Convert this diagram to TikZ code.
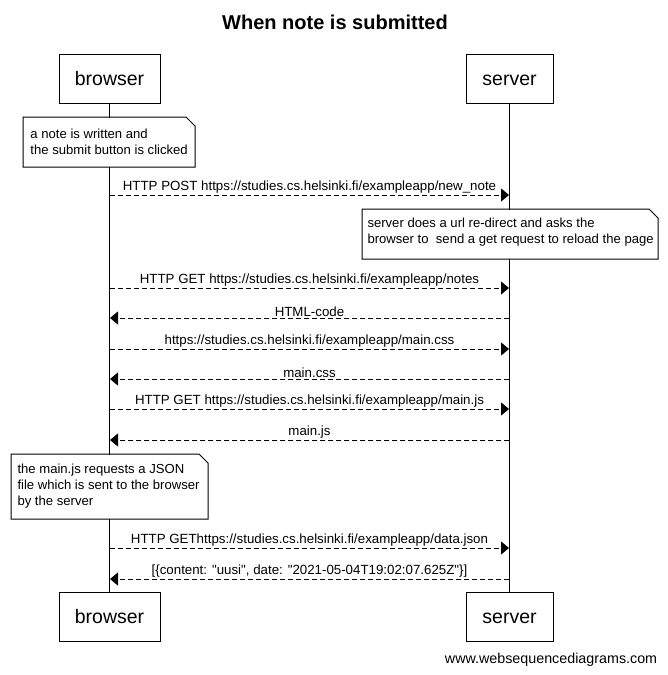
\documentclass[tikz,border=0pt]{standalone}
\usepackage{fontspec}
\setmainfont{Liberation Sans}
\usetikzlibrary{arrows.meta}

\begin{document}
\begin{tikzpicture}[x=1pt,y=-1pt,line width=1pt,
	actor/.style={draw,fill=white,minimum height=49pt,inner sep=0pt,text height=14pt,text depth=0pt,font=\fontsize{19.5}{22}\selectfont},
	notebox/.style={anchor=north west,fill=white,inner sep=0pt},
	notetext/.style={anchor=west,inner sep=0pt,align=left,font=\fontsize{13.1}{16}\selectfont},
	msg/.style={dash pattern=on 5pt off 3pt,-{Triangle[length=8pt,width=13pt]}},
	lbl/.style={above,inner sep=1pt,font=\fontsize{13.3}{15}\selectfont}]

	\useasboundingbox (0,0) rectangle (667,675);

	\node[font=\bfseries\fontsize{20}{24}\selectfont] (title) at (335,22) {When note is submitted};

	% participants
	\node[actor,minimum width=101pt] (btop) at (109.5,78.5) {browser};
	\node[actor,minimum width=87pt] (stop) at (509.5,78.5) {server};
	\node[actor,minimum width=101pt] (bbot) at (109.5,616.5) {browser};
	\node[actor,minimum width=87pt] (sbot) at (509.5,616.5) {server};

	\draw (btop) -- (bbot);
	\draw (stop) -- (sbot);

	% notes
	\node[notebox,minimum width=171pt,minimum height=49pt] (n1) at (23,117) {};
	\draw (n1.north west) -- ([xshift=-9pt]n1.north east) -- ([yshift=-9pt]n1.north east)
		-- (n1.south east) -- (n1.south west) -- cycle;
	\node[notetext] (n1text) at ([xshift=7pt]n1.west)
		{a note is written and\\the submit button is clicked};

	\node[notebox,minimum width=295pt,minimum height=49pt] (n2) at (362,209) {};
	\draw (n2.north west) -- ([xshift=-9pt]n2.north east) -- ([yshift=-9pt]n2.north east)
		-- (n2.south east) -- (n2.south west) -- cycle;
	\node[notetext] (n2text) at ([xshift=5pt,yshift=2pt]n2.west)
		{server does a url re-direct and asks the\\browser to \ send a get request to reload the page};

	\node[notebox,minimum width=196pt,minimum height=64pt] (n3) at (11,454) {};
	\draw (n3.north west) -- ([xshift=-9pt]n3.north east) -- ([yshift=-9pt]n3.north east)
		-- (n3.south east) -- (n3.south west) -- cycle;
	\node[notetext] (n3text) at ([xshift=6pt]n3.west)
		{the main.js requests a JSON\\file which is sent to the browser\\by the server};

	% messages
	\coordinate (b1) at (110,195); \coordinate (s1) at (509,195);
	\coordinate (b2) at (110,288); \coordinate (s2) at (509,288);
	\coordinate (b3) at (110,318); \coordinate (s3) at (509,318);
	\coordinate (b4) at (110,349); \coordinate (s4) at (509,349);
	\coordinate (b5) at (110,379); \coordinate (s5) at (509,379);
	\coordinate (b6) at (110,409); \coordinate (s6) at (509,409);
	\coordinate (b7) at (110,440); \coordinate (s7) at (509,440);
	\coordinate (b8) at (110,548); \coordinate (s8) at (509,548);
	\coordinate (b9) at (110,579); \coordinate (s9) at (509,579);

	\draw[msg] (b1) -- (s1) node[midway,lbl] {HTTP POST https://studies.cs.helsinki.fi/exampleapp/new\_note};
	\draw[msg] (b2) -- (s2) node[midway,lbl] {HTTP GET https://studies.cs.helsinki.fi/exampleapp/notes};
	\draw[msg] (s3) -- (b3) node[midway,lbl] {HTML-code};
	\draw[msg] (b4) -- (s4) node[midway,lbl] {https://studies.cs.helsinki.fi/exampleapp/main.css};
	\draw[msg] (s5) -- (b5) node[midway,lbl] {main.css};
	\draw[msg] (b6) -- (s6) node[midway,lbl] {HTTP GET https://studies.cs.helsinki.fi/exampleapp/main.js};
	\draw[msg] (s7) -- (b7) node[midway,lbl] {main.js};
	\draw[msg] (b8) -- (s8) node[midway,lbl] {HTTP GEThttps://studies.cs.helsinki.fi/exampleapp/data.json};
	\draw[msg] (s9) -- (b9) node[midway,lbl] {[\{content: \textquotedbl uusi\textquotedbl, date: \textquotedbl 2021-05-04T19:02:07.625Z\textquotedbl\}]};

	\node[anchor=east,font=\fontsize{14.3}{17}\selectfont] (footer) at (661,660) {www.websequencediagrams.com};

\end{tikzpicture}
\end{document}
